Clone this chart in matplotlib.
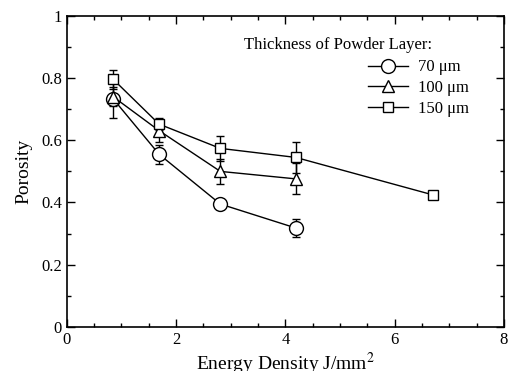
import matplotlib
matplotlib.use("Agg")
import matplotlib.pyplot as plt
from matplotlib.ticker import MultipleLocator

plt.rcParams['font.family'] = ['Liberation Serif', 'DejaVu Serif']
plt.rcParams['mathtext.fontset'] = 'stix'

# data
x70 = [0.85, 1.69, 2.81, 4.19]
y70 = [0.733, 0.555, 0.395, 0.318]
e70 = [0.06, 0.03, 0.0, 0.03]

x100 = [0.85, 1.69, 2.81, 4.19]
y100 = [0.740, 0.631, 0.500, 0.476]
e100 = [0.03, 0.035, 0.04, 0.05]

x150 = [0.85, 1.69, 2.81, 4.19, 6.71]
y150 = [0.796, 0.652, 0.574, 0.545, 0.424]
e150 = [0.03, 0.02, 0.04, 0.05, 0.0]

labels = ['70 \u03bcm', '100 \u03bcm', '150 \u03bcm']

fig = plt.figure(figsize=(5.1, 3.71), dpi=100)
ax = fig.add_axes([0.131, 0.119, 0.857, 0.838])

series = [
    (x70, y70, e70, 'o', 10, labels[0]),
    (x100, y100, e100, '^', 9, labels[1]),
    (x150, y150, e150, 's', 7, labels[2]),
]
for xs, ys, es, mk, ms, lab in series:
    # error bars under the white-filled markers
    ax.errorbar(xs, ys, yerr=es, fmt='none', ecolor='black', elinewidth=1.0,
                capsize=3, capthick=1.0, zorder=2)
    ax.plot(xs, ys, color='black', lw=1.0, marker=mk, ms=ms,
            mfc='white', mec='black', mew=1.0, label=lab, zorder=3)

ax.set_xlim(0, 8)
ax.set_ylim(0, 1)
ax.xaxis.set_major_locator(MultipleLocator(2))
ax.xaxis.set_minor_locator(MultipleLocator(0.5))
ax.yaxis.set_major_locator(MultipleLocator(0.2))
ax.yaxis.set_minor_locator(MultipleLocator(0.1))
ax.tick_params(which='both', direction='in', top=True, right=True, labelsize=12)
ax.tick_params(which='major', length=6, width=1)
ax.tick_params(which='minor', length=3, width=1)
ax.xaxis.set_major_formatter(plt.FuncFormatter(lambda v, p: f'{v:g}'))
ax.yaxis.set_major_formatter(plt.FuncFormatter(lambda v, p: f'{v:g}'))
for sp in ax.spines.values():
    sp.set_linewidth(1.2)

ax.set_xlabel('Energy Density J/mm$^2$', fontsize=14, labelpad=2)
ax.set_ylabel('Porosity', fontsize=14, labelpad=6)

ax.text(0.405, 0.908, 'Thickness of Powder Layer:', transform=ax.transAxes,
        fontsize=12, va='center', ha='left')
ax.legend(loc='upper left', bbox_to_anchor=(0.69, 0.86), frameon=False,
          fontsize=12, handlelength=2.4, handletextpad=0.6, labelspacing=0.28,
          borderaxespad=0, borderpad=0)

fig.savefig('out.png', dpi=100)
